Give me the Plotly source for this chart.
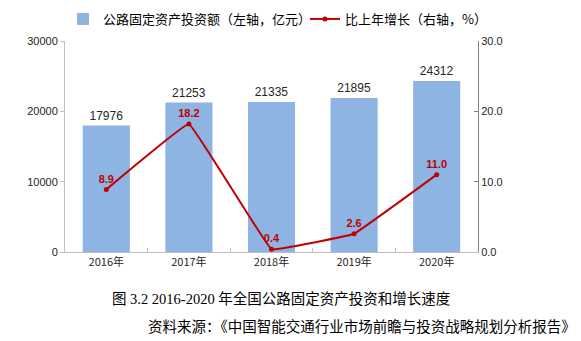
import plotly.graph_objects as go

years = ["2016年", "2017年", "2018年", "2019年", "2020年"]
investment = [17976, 21253, 21335, 21895, 24312]
growth = [8.9, 18.2, 0.4, 2.6, 11.0]

BAR_C = "#8DB4E2"
LINE_C = "#C00000"
CJK = "Noto Sans CJK SC, Arial, sans-serif"
SERIF = "Liberation Serif, Noto Sans CJK SC, serif"

fig = go.Figure()
fig.add_trace(go.Bar(
    x=years, y=investment, name="公路固定资产投资额（左轴，亿元）",
    marker=dict(color=BAR_C, line=dict(width=0)), width=0.57,
    text=[str(v) for v in investment], textposition="outside",
    textfont=dict(family="Liberation Sans, Arial", size=12, color="#262626"),
    cliponaxis=False, legend="legend",
))
fig.add_trace(go.Scatter(
    x=years, y=growth, yaxis="y2", name="比上年增长（右轴，%）",
    mode="lines+markers+text",
    line=dict(color=LINE_C, width=2, shape="spline", smoothing=0.15),
    marker=dict(color=LINE_C, size=5, symbol="circle"),
    text=[f"{v:.1f}" for v in growth], textposition="top center",
    textfont=dict(family="Liberation Sans, Arial", size=11, color=LINE_C, weight="bold"),
    cliponaxis=False, legend="legend2",
))

legend_common = dict(orientation="h", xref="paper", yref="container", yanchor="middle",
                     xanchor="left", font=dict(family=CJK, size=13, color="#000000"),
                     bgcolor="rgba(0,0,0,0)")
fig.update_layout(
    width=581, height=341,
    margin=dict(l=65, r=103, t=41, b=89, autoexpand=False),
    paper_bgcolor="white", plot_bgcolor="white",
    showlegend=True,
    legend=dict(x=(63 - 65) / 413, y=1 - 19 / 341, **legend_common),
    legend2=dict(x=(305 - 65) / 413, y=1 - 19 / 341, **legend_common),
    bargap=0.43,
    xaxis=dict(type="category", range=[-0.5, 4.5], showline=True, linecolor="#BFBFBF",
               linewidth=1, ticks="inside", tickson="boundaries", ticklen=4,
               tickcolor="#BFBFBF", showgrid=False,
               tickfont=dict(family=CJK, size=11, color="#262626")),
    yaxis=dict(range=[0, 30000], dtick=10000, tickformat="d", showline=True,
               linecolor="#BFBFBF", ticks="outside", ticklen=4, tickcolor="#BFBFBF",
               showgrid=False, zeroline=False,
               tickfont=dict(family="Liberation Sans, Arial", size=11, color="#262626")),
    yaxis2=dict(range=[0, 30], dtick=10, tickformat=".1f", overlaying="y", side="right",
                showline=True, linecolor="#808080", ticks="inside", ticklen=4,
                tickcolor="#808080", showgrid=False, zeroline=False,
                tickfont=dict(family="Liberation Sans, Arial", size=11, color="#262626")),
    annotations=[
        dict(text="图 3.2 2016-2020 年全国公路固定资产投资和增长速度",
             xref="paper", yref="paper", x=(110 - 65) / 413, xanchor="left",
             y=(252 - 298) / 211, yanchor="middle", showarrow=False,
             font=dict(family=SERIF, size=14.5, color="#000000")),
        dict(text="资料来源：《中国智能交通行业市场前瞻与投资战略规划分析报告》",
             xref="paper", yref="paper", x=(578 - 65) / 413, xanchor="right",
             y=(252 - 326) / 211, yanchor="middle", showarrow=False,
             font=dict(family=SERIF, size=14.5, color="#000000")),
    ],
)

fig.write_html("out.html")
